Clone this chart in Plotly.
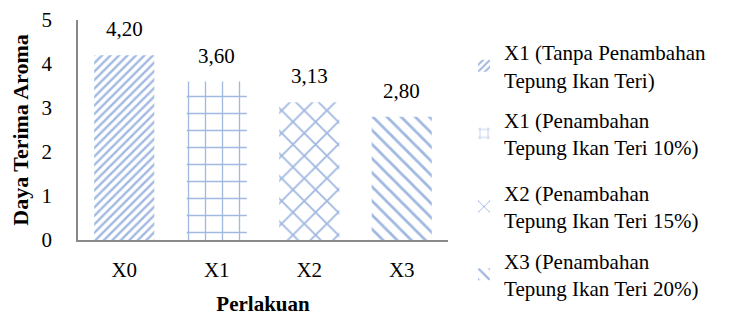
import plotly.graph_objects as go

categories = ["X0", "X1", "X2", "X3"]
values = [4.20, 3.60, 3.13, 2.80]
legend_names = [
    "X1 (Tanpa Penambahan<br>Tepung Ikan Teri)",
    "X1 (Penambahan<br>Tepung Ikan Teri 10%)",
    "X2 (Penambahan<br>Tepung Ikan Teri 15%)",
    "X3 (Penambahan<br>Tepung Ikan Teri 20%)",
]
patterns = ["/", "+", "x", "\\"]
pattern_sizes = [6, 17, 16, 10]
pattern_solidity = [0.4, 0.15, 0.22, 0.28]
legend_ids = ["legend", "legend", "legend2", "legend2"]
y_ticks = [0, 1, 2, 3, 4, 5]

blue = "#4472C4"
font_family = "Liberation Serif"

fig = go.Figure()
for i, (c, v, n) in enumerate(zip(categories, values, legend_names)):
    fig.add_trace(go.Bar(
        x=[c], y=[v], name=n, legendgroup=f"g{i}", legend=legend_ids[i],
        width=0.65,
        marker=dict(color="white", line=dict(width=0),
                    pattern=dict(shape=patterns[i], fgcolor=blue, bgcolor="white",
                                 size=pattern_sizes[i], solidity=pattern_solidity[i],
                                 fillmode="overlay")),
    ))
    fig.add_annotation(x=c, y=v, text=f"{v:.2f}".replace(".", ","),
                       showarrow=False, yanchor="bottom", yshift=12,
                       font=dict(family=font_family, size=21, color="black"))

legend_common = dict(font=dict(family=font_family, size=21, color="black"),
                     xref="container", yref="container", xanchor="left", yanchor="top",
                     tracegroupgap=10, itemwidth=30, bgcolor="rgba(0,0,0,0)")

fig.update_layout(
    width=730, height=308,
    margin=dict(l=70, r=290, t=12, b=76, autoexpand=False),
    barmode="overlay",
    plot_bgcolor="white", paper_bgcolor="white",
    font=dict(family=font_family, size=21, color="black"),
    showlegend=True,
    legend=dict(x=0.6247, y=0.922, **legend_common),
    legend2=dict(x=0.6247, y=0.465, **legend_common),
    xaxis=dict(title=dict(text="<b>Perlakuan</b>", font=dict(size=21), standoff=15),
               showline=True, linecolor="#898989", linewidth=1.5,
               ticks="", ticklabelstandoff=10, showgrid=False),
    yaxis=dict(title=dict(text="<b>Daya Terima Aroma</b>", font=dict(size=22), standoff=8),
               range=[0, 5], tickvals=y_ticks, showline=True, linecolor="#898989",
               linewidth=1.5, ticks="", ticklabelstandoff=20, showgrid=False,
               zeroline=False),
)

fig.write_html("out.html")
